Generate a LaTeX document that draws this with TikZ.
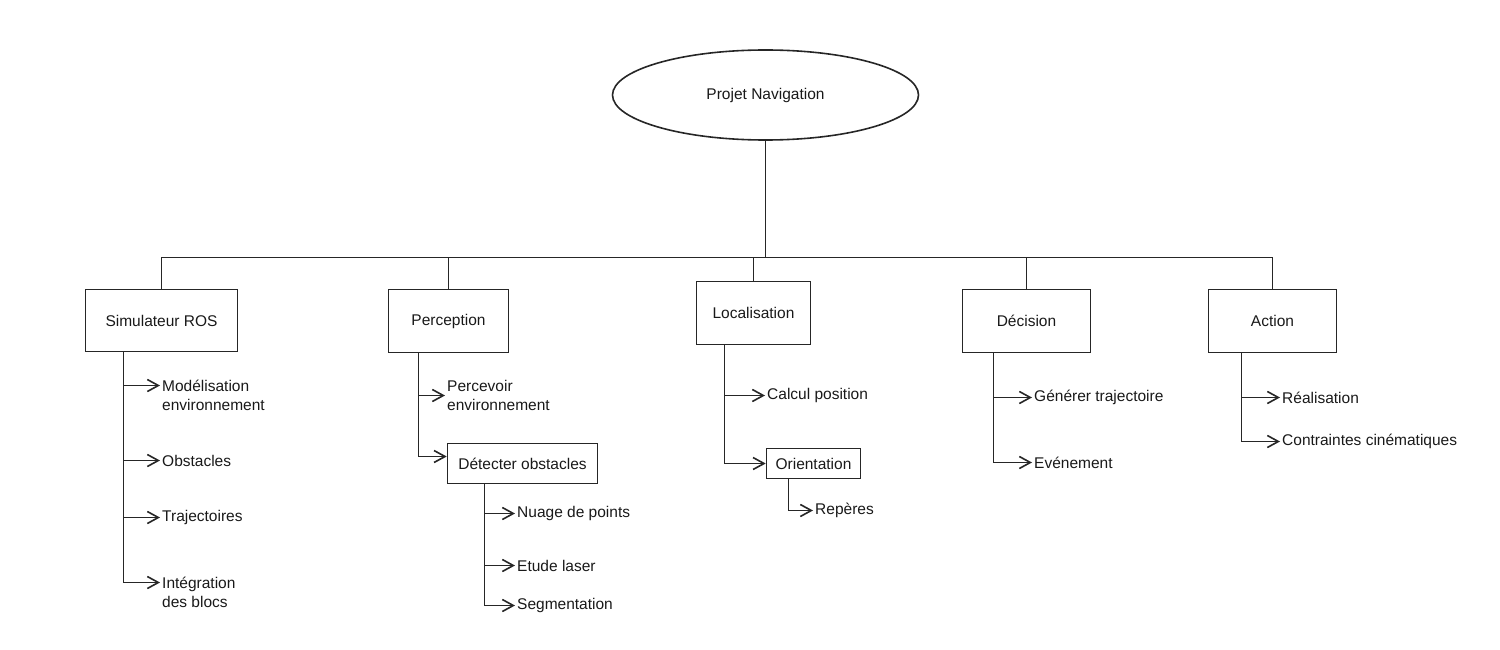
\documentclass[tikz,border=0pt]{standalone}
\usepackage{fontspec}
\setmainfont{Liberation Sans}
\usetikzlibrary{arrows.meta,shapes.geometric}

\begin{document}
\begin{tikzpicture}[x=1bp,y=-1bp,
  every node/.style={font=\fontsize{15.5bp}{19.5bp}\selectfont, text=black!90},
  conn/.style={line width=1.6bp, draw=black!85},
  arr/.style={conn, -{Straight Barb[length=11bp,width=12bp,line width=1.6bp]}},
  box/.style={draw=black!85, line width=1.6bp, inner sep=0pt},
  leaf/.style={anchor=west, align=left, inner sep=2bp}]

\useasboundingbox (0,0) rectangle (1500,650);

% root
\node[ellipse, box, minimum width=306bp, minimum height=90bp] (root) at (765.5,95) {Projet Navigation};

% main blocks
\node[box, minimum width=152bp, minimum height=62bp] (sim)  at (161.5,320.5) {Simulateur ROS};
\node[box, minimum width=120bp, minimum height=63bp] (perc) at (448.5,321)   {Perception};
\node[box, minimum width=114bp, minimum height=63bp] (loc)  at (753.5,313)   {Localisation};
\node[box, minimum width=128bp, minimum height=63bp] (dec)  at (1026.5,321)  {Décision};
\node[box, minimum width=128bp, minimum height=63bp] (act)  at (1272.5,321)  {Action};

% bus
\coordinate (bus) at (765.5,257.5);
\draw[conn] (root.south) -- (bus);
\draw[conn] (sim.north) |- (bus) -| (act.north);
\foreach \b in {perc,loc,dec} \draw[conn] (bus -| \b.north) -- (\b.north);

% Simulateur ROS
\node[leaf] (s1) at (160,395.5) {Modélisation\\environnement};
\node[leaf] (s2) at (160,460.5) {Obstacles};
\node[leaf] (s3) at (160,517.5) {Trajectoires};
\node[leaf] (s4) at (160,592.5) {Intégration\\des blocs};
\draw[arr] ([xshift=-38bp]sim.south) |- ([yshift=10bp]s1.west);
\draw[arr] ([xshift=-38bp]sim.south) |- (s2.west);
\draw[arr] ([xshift=-38bp]sim.south) |- (s3.west);
\draw[arr] ([xshift=-38bp]sim.south) |- ([yshift=10bp]s4.west);

% Perception
\node[leaf] (p1) at (445,395.5) {Percevoir\\environnement};
\node[box, minimum width=150bp, minimum height=40bp] (det) at (522.5,463.5) {Détecter obstacles};
\draw[arr] ([xshift=-30bp]perc.south) |- (p1.west);
\draw[arr] ([xshift=-30bp]perc.south) |- ([yshift=7bp]det.west);
\node[leaf] (d1) at (515,513.5) {Nuage de points};
\node[leaf] (d2) at (515,565.5) {Etude laser};
\node[leaf] (d3) at (515,605.5) {Segmentation};
\foreach \n in {d1,d2,d3} \draw[arr] ([xshift=-38bp]det.south) |- (\n.west);

% Localisation
\node[leaf] (l1) at (765,395.5) {Calcul position};
\node[box, minimum width=94bp, minimum height=30bp] (ori) at (813.5,463.5) {Orientation};
\draw[arr] ([xshift=-29bp]loc.south) |- (l1.west);
\draw[arr] ([xshift=-29bp]loc.south) |- (ori.west);
\node[leaf] (o1) at (813,510.5) {Repères};
\draw[arr] ([xshift=-25bp]ori.south) |- (o1.west);

% Décision
\node[leaf] (e1) at (1032,397.5) {Générer trajectoire};
\node[leaf] (e2) at (1032,462.5) {Evénement};
\foreach \n in {e1,e2} \draw[arr] ([xshift=-33bp]dec.south) |- (\n.west);

% Action
\node[leaf] (a1) at (1280,397.5) {Réalisation};
\node[leaf] (a2) at (1280,441.5) {Contraintes cinématiques};
\foreach \n in {a1,a2} \draw[arr] ([xshift=-31bp]act.south) |- (\n.west);

\end{tikzpicture}
\end{document}
